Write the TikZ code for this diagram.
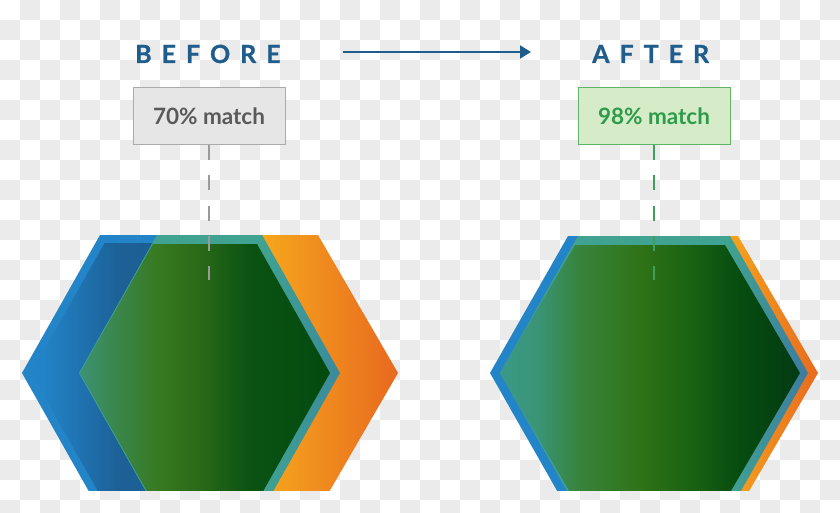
\documentclass[tikz,border=0pt]{standalone}
\usepackage{fontspec}
\setmainfont{Lato}
\usetikzlibrary{arrows.meta}
\definecolor{chk}{HTML}{EBEBEB}
\definecolor{headc}{HTML}{1F5D8C}
\definecolor{boxAfill}{HTML}{E6E6E6}
\definecolor{boxAdraw}{HTML}{ABABAB}
\definecolor{boxAtext}{HTML}{595959}
\definecolor{boxBfill}{HTML}{D6EBC8}
\definecolor{boxBdraw}{HTML}{5FB565}
\definecolor{boxBtext}{HTML}{2E9B4B}
\definecolor{dashA}{HTML}{9A9A9A}
\definecolor{dashB}{HTML}{3FA05C}
\definecolor{blueout}{HTML}{2384C8}
\definecolor{gB1}{HTML}{3C9272}
\definecolor{gB2}{HTML}{37791F}
\definecolor{gB3}{HTML}{2A6917}
\definecolor{gB4}{HTML}{0A5312}
\definecolor{gB5}{HTML}{044A10}
\definecolor{gA1}{HTML}{3A9A88}
\definecolor{gA2}{HTML}{3A9475}
\definecolor{gA3}{HTML}{37833A}
\definecolor{gA4}{HTML}{2F7317}
\definecolor{gA5}{HTML}{155E12}
\definecolor{gA6}{HTML}{064C10}
\definecolor{gA7}{HTML}{033A12}
\definecolor{bI1}{HTML}{2283C8}
\definecolor{bI2}{HTML}{1C6096}
\definecolor{bI3}{HTML}{1B5A88}
\definecolor{t1}{HTML}{40A291}
\definecolor{t2}{HTML}{3B8A9C}
\definecolor{t3}{HTML}{3E7BA2}
\definecolor{o1}{HTML}{F7A91C}
\definecolor{o2}{HTML}{F6A51D}
\definecolor{o3}{HTML}{E8691F}
\definecolor{o4}{HTML}{F4A01E}
\pgfdeclarehorizontalshading{grnB}{100bp}{color(0bp)=(gB1); color(25bp)=(gB1); color(41bp)=(gB2); color(49bp)=(gB3); color(59bp)=(gB4); color(75bp)=(gB5); color(100bp)=(gB5)}
\pgfdeclarehorizontalshading{grnA}{100bp}{color(0bp)=(gA1); color(25bp)=(gA1); color(31.5bp)=(gA2); color(38.5bp)=(gA3); color(48.5bp)=(gA4); color(58.5bp)=(gA5); color(65bp)=(gA6); color(75bp)=(gA7); color(100bp)=(gA7)}
\pgfdeclarehorizontalshading{bluIn}{100bp}{color(0bp)=(bI1); color(27bp)=(bI1); color(40bp)=(bI2); color(75bp)=(bI3); color(100bp)=(bI3)}
\pgfdeclarehorizontalshading{telB}{100bp}{color(0bp)=(t1); color(60bp)=(t1); color(75bp)=(t2); color(100bp)=(t2)}
\pgfdeclarehorizontalshading{telA}{100bp}{color(0bp)=(t1); color(62bp)=(t1); color(75bp)=(t3); color(100bp)=(t3)}
\pgfdeclarehorizontalshading{orgB}{100bp}{color(0bp)=(o1); color(54bp)=(o2); color(75bp)=(o3); color(100bp)=(o3)}
\pgfdeclarehorizontalshading{orgA}{100bp}{color(0bp)=(o1); color(62bp)=(o4); color(75bp)=(o3); color(100bp)=(o3)}
\newcommand\hexp[6]{(#1,#6) -- (#2,#5) -- (#3,#5) -- (#4,#6) -- (#3,{2*#6-#5}) -- (#2,{2*#6-#5}) -- cycle}
\tikzset{
  heading/.style={font=\fontsize{25}{30}\selectfont\bfseries\addfontfeatures{LetterSpace=40,FakeBold=1}, text=headc, inner sep=0pt},
  matchbox/.style={minimum width=152pt, minimum height=57pt, inner sep=0pt, line width=1pt, font=\fontsize{22.5}{27}\selectfont\bfseries},
  linkdash/.style={line width=1.5pt, dash pattern=on 15pt off 15pt}
}
\begin{document}
\begin{tikzpicture}[x=1pt,y=-1pt]
\useasboundingbox (0,0) rectangle (840,513);
\fill[white] (0,0) rectangle (840,513);
\begin{scope}
\clip (0,0) rectangle (840,513);
\foreach \j in {0,...,25}{
  \foreach \i in {0,...,41}{
    \pgfmathtruncatemacro{\cellpar}{mod(\i+\j,2)}
    \ifnum\cellpar=1 \fill[chk] (\i*20,\j*20) rectangle (\i*20+20,\j*20+20); \fi
  }
}
\end{scope}
\node[heading, anchor=base west] (before) at (135,63) {BEFORE};
\node[heading, anchor=base west] (after) at (592,63) {AFTER};
\coordinate (arrS) at (343,52);
\coordinate (arrE) at (531,52);
\draw[headc, line width=2pt, -{Triangle[length=11pt,width=13pt]}] (arrS) -- (arrE);
\node[matchbox, fill=boxAfill, draw=boxAdraw, text=boxAtext] (boxA) at (209,116.5) {70\% match};
\node[matchbox, fill=boxBfill, draw=boxBdraw, text=boxBtext] (boxB) at (654,116.5) {98\% match};
\begin{scope}
\clip (0,0) rectangle (840,490);
\shade[shading=orgB] \hexp{82}{160}{318}{398}{235}{373};
\fill[blueout] \hexp{22}{100}{260}{338}{235}{373};
\shade[shading=bluIn] \hexp{31}{104.6}{255.4}{329}{243}{373};
\shade[shading=telB] \hexp{79}{157}{262}{340}{235}{373};
\shade[shading=grnB] \hexp{80}{153}{257}{330}{244}{373};
\shade[shading=orgA] \hexp{502}{582}{738}{818}{236}{373};
\fill[blueout] \hexp{490}{568}{728}{806}{236}{373};
\shade[shading=telA] \hexp{500}{578}{730}{808}{236}{373};
\shade[shading=grnA] \hexp{500}{575}{725}{800}{245}{373};
\end{scope}
\coordinate (endA) at (209,280);
\coordinate (endB) at (654,280);
\draw[linkdash, dashA] (boxA.south) -- (endA);
\draw[linkdash, dashB] (boxB.south) -- (endB);
\end{tikzpicture}
\end{document}
